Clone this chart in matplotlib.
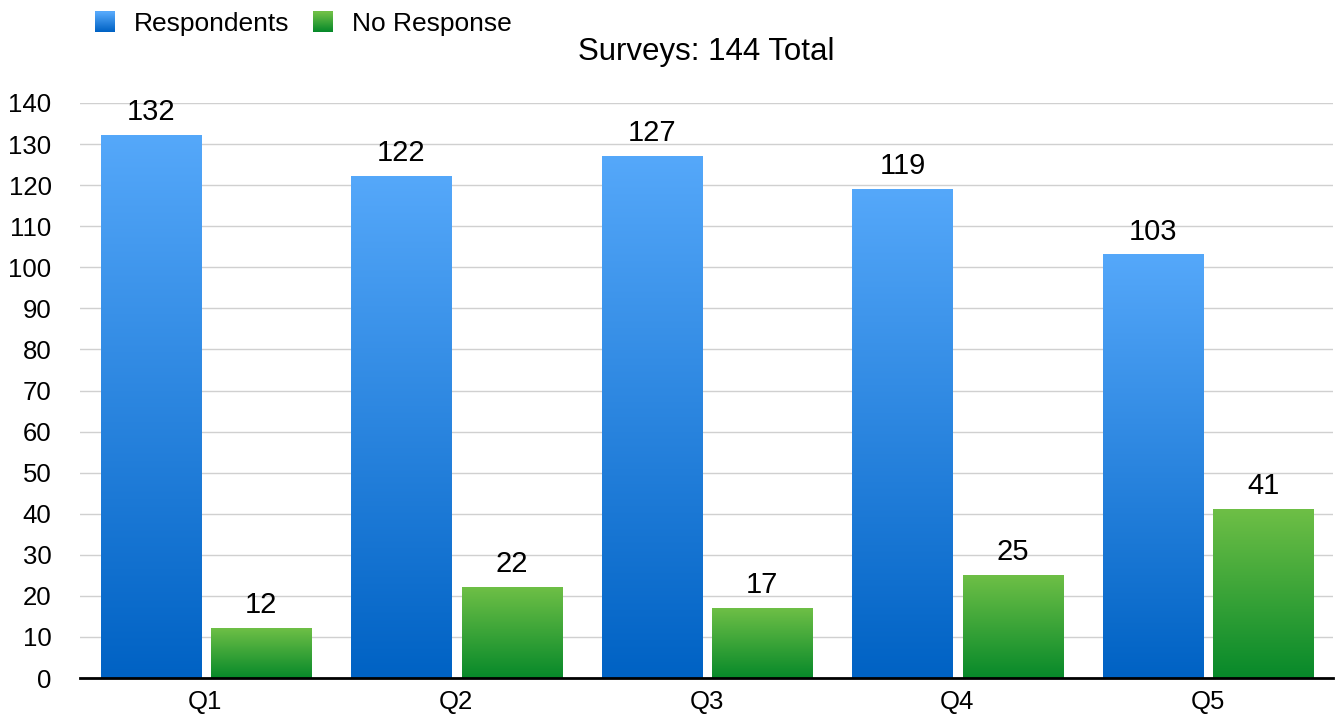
import numpy as np
import matplotlib.pyplot as plt
from matplotlib.patches import Rectangle
from matplotlib.legend_handler import HandlerBase
from matplotlib.colors import LinearSegmentedColormap

plt.rcParams['font.family'] = ['Liberation Sans', 'DejaVu Sans']

questions = ['Q1', 'Q2', 'Q3', 'Q4', 'Q5']
respondents = [132, 122, 127, 119, 103]
no_response = [12, 22, 17, 25, 41]
series_names = ['Respondents', 'No Response']
title = 'Surveys: 144 Total'

blue_cmap = LinearSegmentedColormap.from_list('b', ['#0062C4', '#55A8FA'])
green_cmap = LinearSegmentedColormap.from_list('g', ['#07892A', '#6EBF46'])

fig = plt.figure(figsize=(13.35, 7.17), dpi=100)
ax = fig.add_axes([80 / 1335, 39 / 717, 1253 / 1335, 575 / 717])

x = np.arange(len(questions))
w = 0.4
b1 = ax.bar(x - 0.218, respondents, w, color='none', edgecolor='none')
b2 = ax.bar(x + 0.223, no_response, w, color='none', edgecolor='none')

grad = np.linspace(0, 1, 256).reshape(-1, 1)


def fill_gradient(bars, cmap):
    for p in bars:
        x0, y0 = p.get_x(), p.get_y()
        ax.imshow(grad, cmap=cmap, origin='lower', aspect='auto',
                  extent=(x0, x0 + p.get_width(), y0, y0 + p.get_height()),
                  zorder=2)


fill_gradient(b1, blue_cmap)
fill_gradient(b2, green_cmap)

for bars, vals in ((b1, respondents), (b2, no_response)):
    for p, v in zip(bars, vals):
        ax.text(p.get_x() + p.get_width() / 2, v + 2.3, str(v), ha='center',
                va='bottom', fontsize=21, zorder=3)

ax.set_xlim(-0.5, len(questions) - 0.5)
ax.set_ylim(0, 140)
ax.set_yticks(np.arange(0, 141, 10))
ax.set_xticks(x)
ax.set_xticklabels(questions)
ax.tick_params(length=0, labelsize=18.5)
ax.tick_params(axis='y', pad=20.5)
ax.tick_params(axis='x', pad=9)
ax.grid(True, axis='y', color='#D0D0D0', lw=1)
ax.set_axisbelow(True)
for s in ('left', 'right', 'top'):
    ax.spines[s].set_visible(False)
ax.spines['bottom'].set_linewidth(2)
ax.spines['bottom'].set_zorder(4)

fig.text(706 / 1335, 1 - 52 / 717, title, ha='center', va='center', fontsize=22.5)


class GradHandler(HandlerBase):
    def __init__(self, cmap):
        super().__init__()
        self.cmap = cmap

    def create_artists(self, legend, orig, xd, yd, width, height, fontsize, trans):
        n = 20
        side = width
        y0 = yd + height / 2 - side / 2
        out = []
        for i in range(n):
            r = Rectangle((xd, y0 + side * i / n), side, side / n + 0.3,
                          facecolor=self.cmap(i / (n - 1)), edgecolor='none',
                          transform=trans)
            out.append(r)
        return out


h1 = Rectangle((0, 0), 1, 1)
h2 = Rectangle((0, 0), 1, 1)
fig.legend([h1, h2], series_names, loc='upper left',
           bbox_to_anchor=(95 / 1335, 1 - 12 / 717),
           ncol=2, frameon=False, fontsize=19, handlelength=0.76, handletextpad=0.72,
           columnspacing=0.87, borderaxespad=0, borderpad=0,
           handler_map={h1: GradHandler(blue_cmap), h2: GradHandler(green_cmap)})

fig.savefig('out.png', dpi=100)
